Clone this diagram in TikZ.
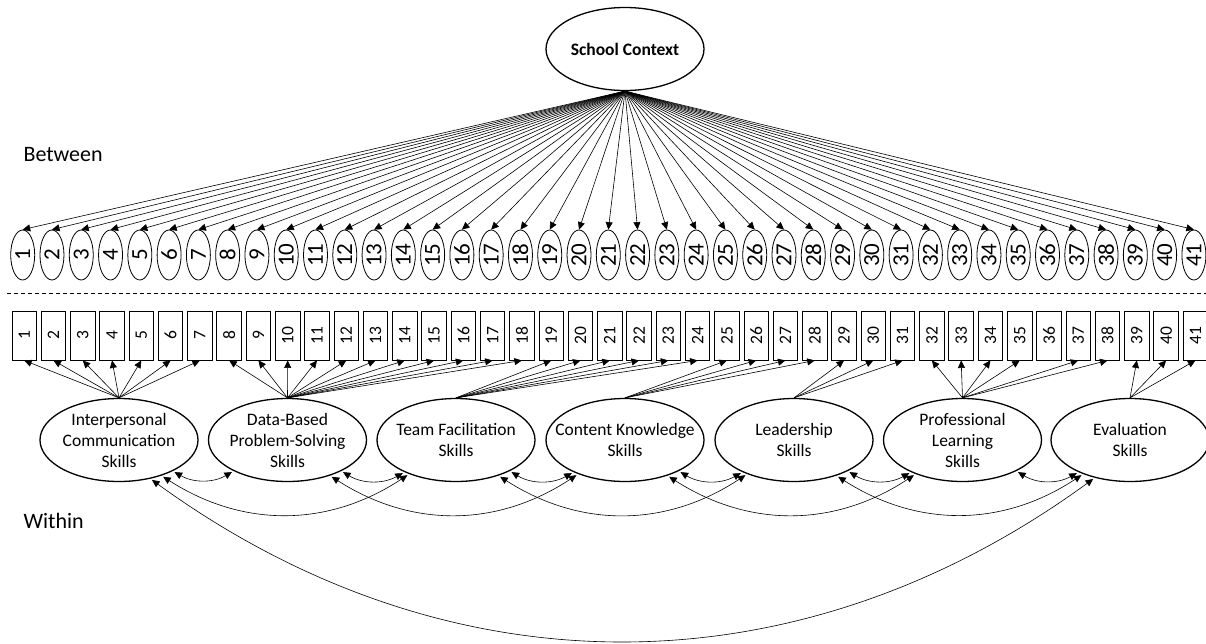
\documentclass[tikz,border=0pt]{standalone}
\usepackage{fontspec}
\usepackage{graphicx}
\setmainfont{Carlito}
\usetikzlibrary{arrows.meta,shapes.geometric}

\begin{document}
\begin{tikzpicture}[x=1pt,y=1pt,
 latent/.style={ellipse,draw,line width=1.3pt,minimum width=158pt,minimum height=83pt,inner sep=-18pt,align=center,font=\fontsize{17.5}{21}\selectfont},
 resid/.style={ellipse,draw,line width=0.8pt,minimum width=24pt,minimum height=50pt,inner sep=0pt,font=\fontsize{23}{23}\selectfont},
 item/.style={rectangle,draw,line width=0.9pt,minimum width=24.5pt,minimum height=49pt,inner sep=0pt,font=\fontsize{17.5}{17.5}\selectfont},
 load/.style={-{Triangle[length=7.5pt,width=7pt]},line width=0.6pt},
 cov/.style={{Triangle[length=7.5pt,width=7pt]}-{Triangle[length=7.5pt,width=7pt]},line width=0.6pt,shorten <=2pt,shorten >=2pt}]
 \useasboundingbox (0,0) rectangle (1206,-643);

 \node[latent,inner sep=0pt,font=\bfseries\fontsize{17.5}{21}\selectfont] (sc) at (625,-49) {School Context};
 \node[anchor=west,font=\fontsize{22}{22}\selectfont] (btw) at (20,-155) {Between};
 \node[anchor=west,font=\fontsize{22}{22}\selectfont] (wtn) at (20,-521) {Within};

 \foreach \i in {1,...,41} {
  \node[resid] (b\i) at ({22.7+29.28*(\i-1)},-255) {\rotatebox{90}{\i}};
  \node[item] (r\i) at ({24.2+29.28*(\i-1)},-335.5) {\rotatebox{90}{\i}};
  \draw[load] (sc.south) -- (b\i.north);
 }

 \draw[dash pattern=on 4pt off 3pt,line width=0.6pt] (7,-293) -- (1206,-293);

 \node[latent] (ic) at (119,-440) {Interpersonal\\Communication\\Skills};
 \node[latent] (dbps) at (287.5,-440) {Data-Based\\Problem-Solving\\Skills};
 \node[latent] (tf) at (456,-440) {Team Facilitation\\Skills};
 \node[latent] (ck) at (625,-440) {Content Knowledge\\Skills};
 \node[latent] (ls) at (794,-440) {Leadership\\Skills};
 \node[latent] (pl) at (962.5,-440) {Professional\\Learning\\Skills};
 \node[latent] (ev) at (1130,-440) {Evaluation\\Skills};

 \foreach \j in {1,...,7} \draw[load] (ic.north) -- (r\j.south);
 \foreach \j in {8,...,18} \draw[load] (dbps.north) -- (r\j.south);
 \foreach \j in {19,...,24} \draw[load] (tf.north) -- (r\j.south);
 \foreach \j in {25,...,28} \draw[load] (ck.north) -- (r\j.south);
 \foreach \j in {29,30,31} \draw[load] (ls.north) -- (r\j.south);
 \foreach \j in {32,33,34,35,37,38} \draw[load] (pl.north) -- (r\j.south);
 \foreach \j in {39,40,41} \draw[load] (ev.north) -- (r\j.south);

 \draw[cov] (ic.-30) to[bend right=30] (dbps.210);
 \draw[cov] (dbps.-30) to[bend right=30] (tf.212);
 \draw[cov] (tf.-30) to[bend right=30] (ck.212);
 \draw[cov] (ck.-30) to[bend right=30] (ls.212);
 \draw[cov] (ls.-30) to[bend right=30] (pl.212);
 \draw[cov] (pl.-30) to[bend right=30] (ev.212);
 \draw[cov] (ic.-40) to[bend right=33] (tf.216);
 \draw[cov] (dbps.-40) to[bend right=33] (ck.216);
 \draw[cov] (tf.-40) to[bend right=33] (ls.216);
 \draw[cov] (ck.-40) to[bend right=33] (pl.216);
 \draw[cov] (ls.-40) to[bend right=33] (ev.216);
 \draw[cov] (ic.-51) to[bend right=36] (ev.227);
\end{tikzpicture}
\end{document}
